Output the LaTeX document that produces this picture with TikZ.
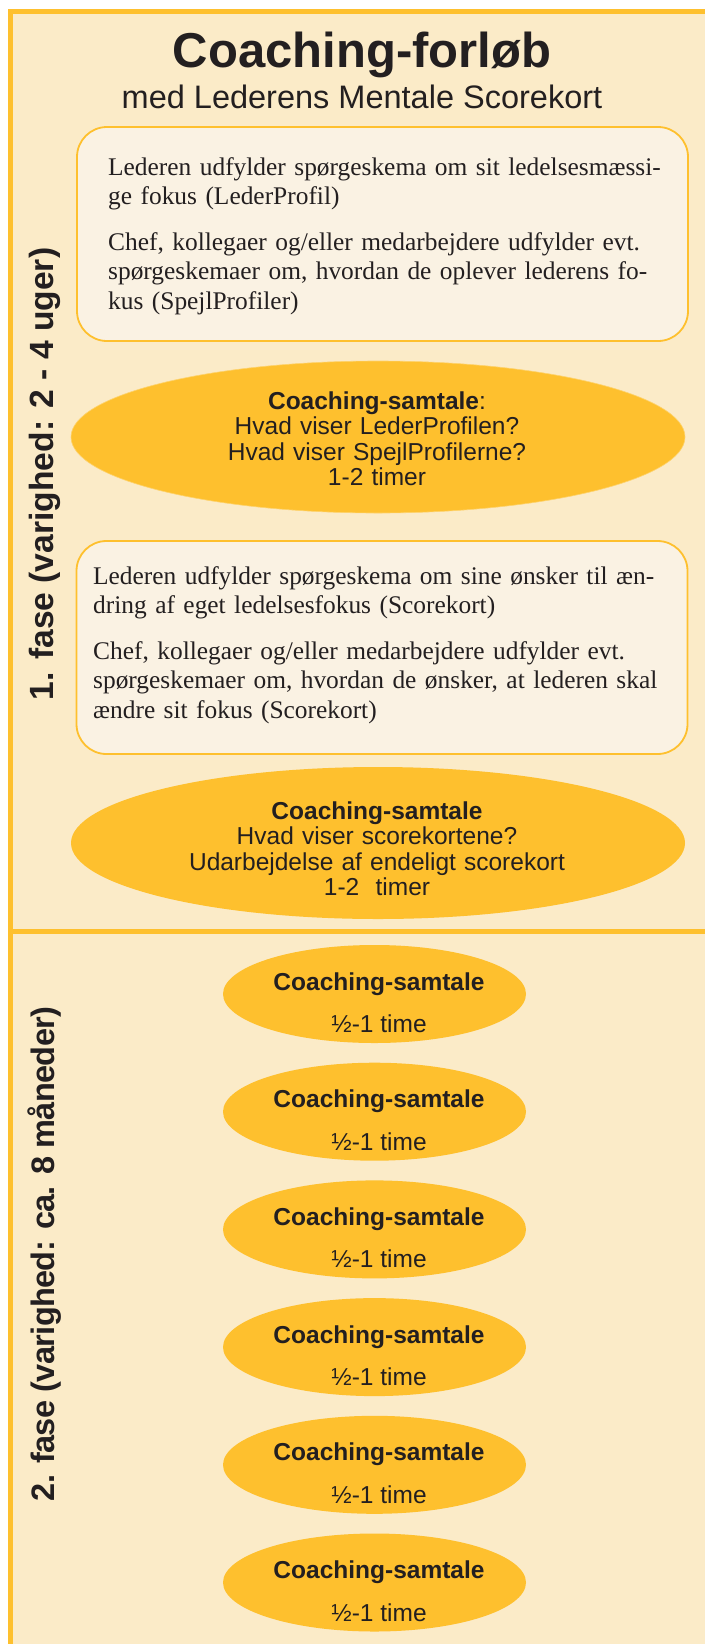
\documentclass[tikz,border=0pt]{standalone}
\usepackage{fontspec}
\setmainfont{Liberation Serif}
\setsansfont{Liberation Sans}
\usetikzlibrary{shapes.geometric}
\definecolor{orng}{HTML}{FEC02E}
\definecolor{cream}{HTML}{FBEBC8}
\definecolor{boxfill}{HTML}{FAF2E3}
\definecolor{ink}{HTML}{231F20}
\begin{document}
\begin{tikzpicture}[x=1pt,y=-1pt,
  every node/.style={text=ink},
  infobox/.style={draw=orng, line width=1.8pt, fill=boxfill, rounded corners=30pt, inner sep=0, minimum width=611pt},
  infotext/.style={anchor=base west, inner sep=0, text width=600pt, align=left, font=\rmfamily\fontsize{25.4}{29.5}\selectfont},
  bigell/.style={ellipse, fill=orng, draw=orng!70!white, line width=0.6pt, inner sep=0, minimum width=614pt, minimum height=152pt},
  elltext/.style={anchor=base, inner sep=0, text width=560pt, align=center, font=\sffamily\fontsize{24.5}{25.6}\selectfont},
  smallell/.style={ellipse, fill=orng, inner sep=0, minimum width=303pt, minimum height=98pt},
  smalltext/.style={anchor=base, inner sep=0, font=\sffamily\fontsize{24.5}{27}\selectfont},
  phaselabel/.style={rotate=90, anchor=base, inner sep=0}]
\useasboundingbox (0,0) rectangle (705,1644);
\fill[white] (0,0) rectangle (705,1644);
\fill[cream] (8,9) rectangle (705,1644);
\draw[orng, line width=5pt] (10.5,1644) -- (10.5,11.5) -- (705,11.5);
\draw[orng, line width=5pt] (8,931.5) -- (705,931.5);

% title
\node[anchor=base, inner sep=0, font=\sffamily\bfseries\fontsize{49}{52}\selectfont] (title) at (362,67) {Coaching-forløb};
\node[anchor=base, inner sep=0, font=\sffamily\fontsize{32.5}{36}\selectfont] (subtitle) at (362,108) {med Lederens Mentale Scorekort};

% phase labels
\node[phaselabel, font=\sffamily\bfseries\fontsize{33.6}{36}\selectfont] (fase1) at (53.5,474) {1. fase (varighed: 2 - 4 uger)};
\node[phaselabel, font=\sffamily\bfseries\fontsize{32.5}{36}\selectfont\addfontfeature{LetterSpace=-2}] (fase2) at (54.5,1254) {2. fase (varighed: ca. 8 måneder)};

% box 1
\node[infobox, minimum height=214pt] (box1) at (382.5,234) {};
\node[infotext] (box1t) at (108,175) {Lederen udfylder spørgeskema om sit ledelsesmæssi-\\ge fokus (LederProfil)\\[16pt]Chef, kollegaer og/eller medarbejdere udfylder evt.\\spørgeskemaer om, hvordan de oplever lederens fo-\\kus (SpejlProfiler)};

% ellipse 1
\node[bigell] (ell1) at (378,437) {};
\node[elltext] (ell1t) at (377,409) {\textbf{Coaching-samtale}:\\Hvad viser LederProfilen?\\Hvad viser SpejlProfilerne?\\1-2 timer};

% box 2
\node[infobox, minimum height=213pt] (box2) at (382,647.5) {};
\node[infotext] (box2t) at (93,584) {Lederen udfylder spørgeskema om sine ønsker til æn-\\dring af eget ledelsesfokus (Scorekort)\\[16pt]Chef, kollegaer og/eller medarbejdere udfylder evt.\\spørgeskemaer om, hvordan de ønsker, at lederen skal\\ændre sit fokus (Scorekort)};

% ellipse 2
\node[bigell, draw=none] (ell2) at (378,843) {};
\node[elltext] (ell2t) at (377,819) {\textbf{Coaching-samtale}\\Hvad viser scorekortene?\\Udarbejdelse af endeligt scorekort\\1-2~~timer};

% phase 2 ellipses
\foreach \i/\yc in {1/994,2/1111.7,3/1229.4,4/1347.1,5/1464.8,6/1582.5}{
  \node[smallell] (s\i) at (374.5,\yc) {};
  \node[smalltext, font=\sffamily\bfseries\fontsize{24.5}{27}\selectfont] (s\i a) at (379,\yc-4) {Coaching-samtale};
  \node[smalltext] (s\i b) at (379,\yc+38.5) {½-1 time};
}
\end{tikzpicture}
\end{document}
